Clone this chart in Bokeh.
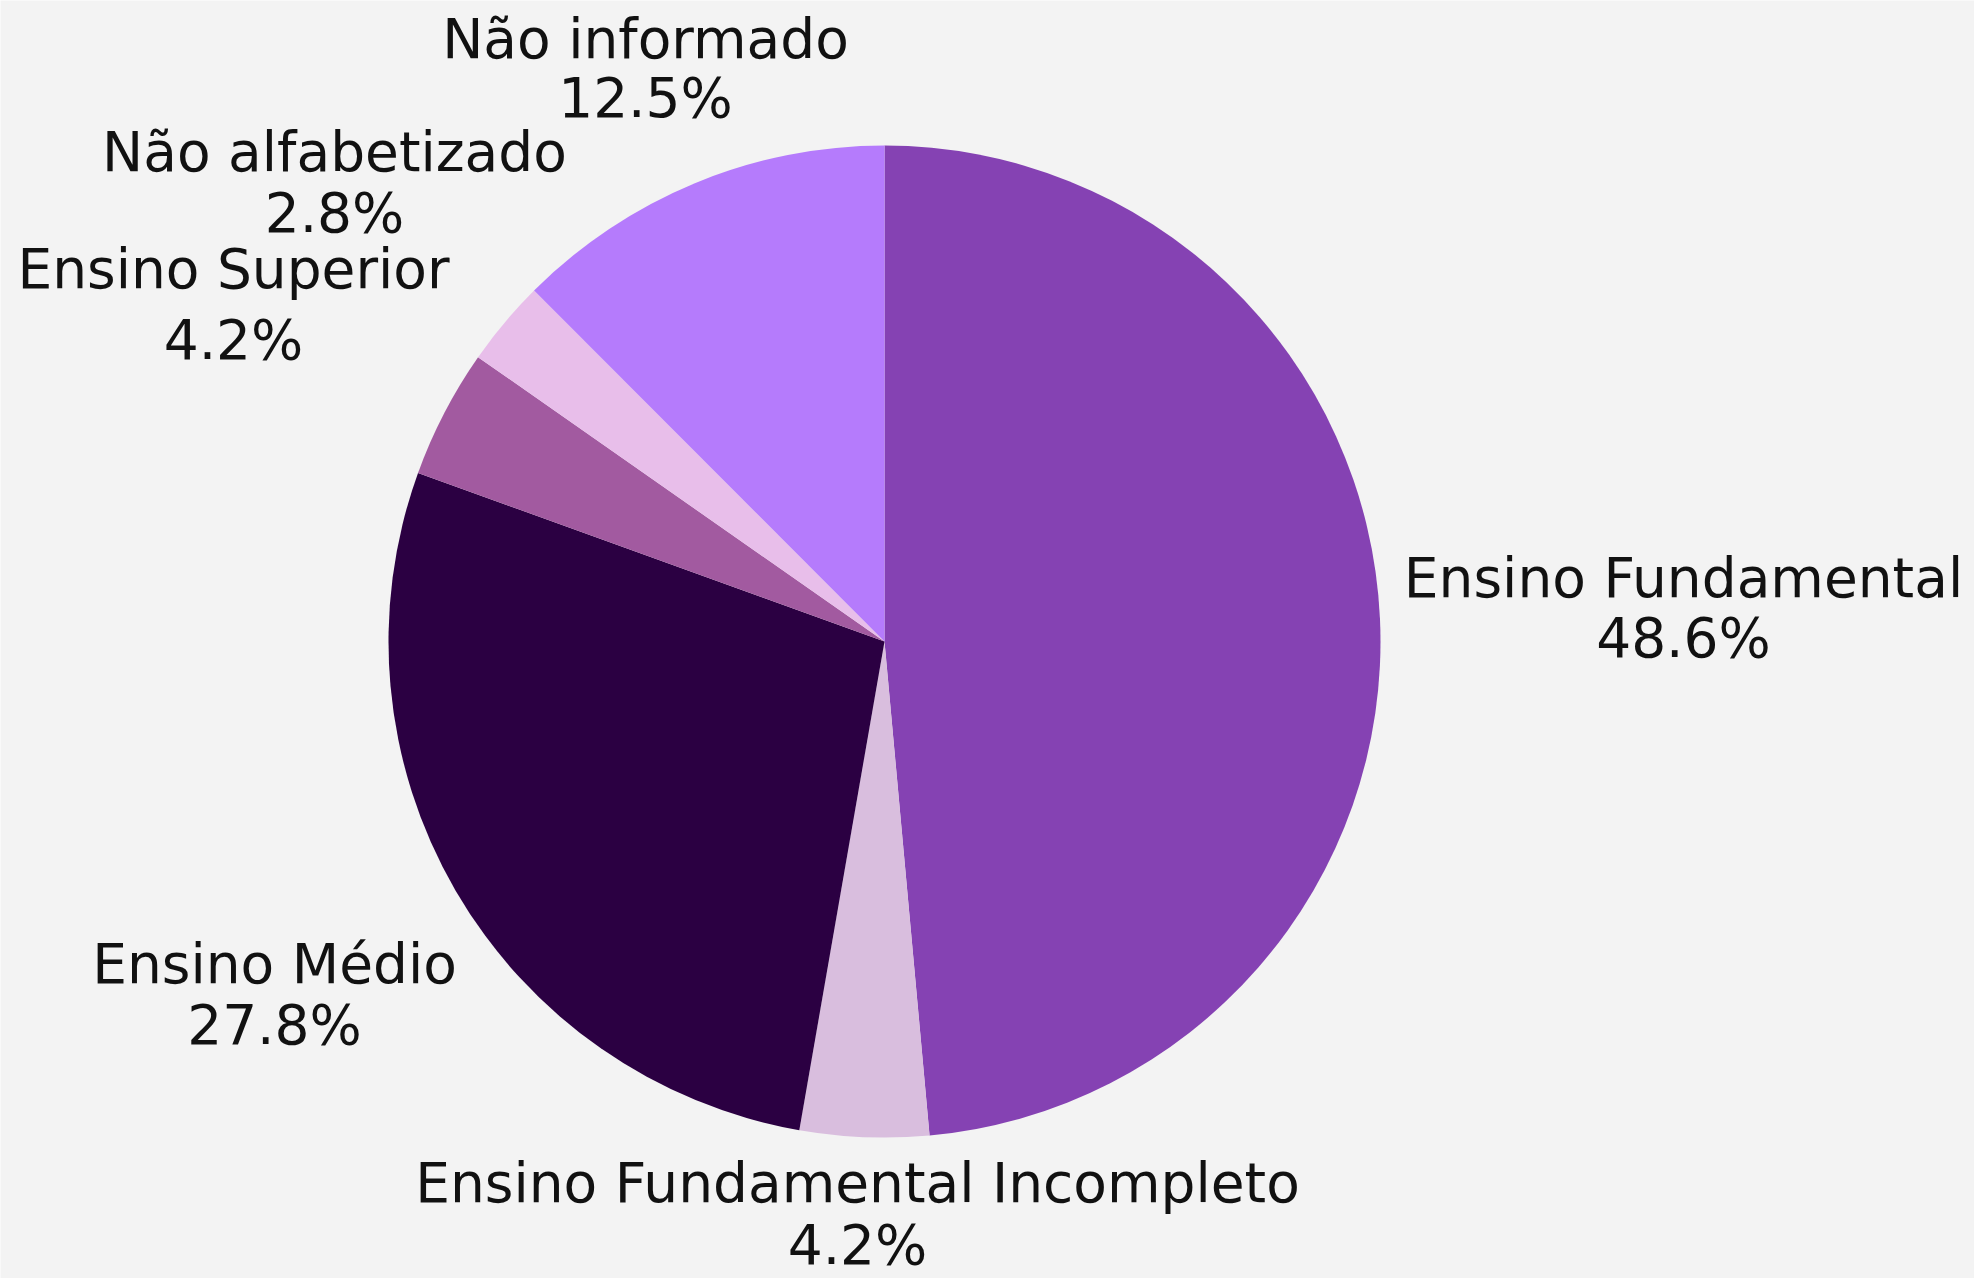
import math
from bokeh.plotting import figure
from bokeh.models import Range1d, ColumnDataSource
from bokeh.embed import file_html
from bokeh.resources import INLINE
from bokeh.core.properties import value

# ---- data ----
categories = ["Ensino Fundamental", "Ensino Fundamental Incompleto", "Ensino Médio",
              "Ensino Superior", "Não alfabetizado", "Não informado"]
percents = [48.6, 4.2, 27.8, 4.2, 2.8, 12.5]
colors = ["#8542B3", "#D9BEDE", "#2B0042", "#A25AA0", "#E8BEEA", "#B57BFC"]

# ---- layout (pixel coordinates of the page, y downward) ----
W, H = 1974, 1278
cx, cy, R = 884, 641, 496
# label anchor positions: (x center, name baseline, percent baseline)
label_pos = [(1683, 577, 637), (857, 1182, 1244), (274, 963, 1024),
             (233, 268, 339), (334, 151, 212), (645, 38, 97)]

total = sum(percents)
starts, ends = [], []
acc = 0.0
for v in percents:
    starts.append(math.pi / 2 - 2 * math.pi * acc / total)
    acc += v
    ends.append(math.pi / 2 - 2 * math.pi * acc / total)

p = figure(width=W, height=H, output_backend="svg", toolbar_location=None,
           x_range=Range1d(0, W), y_range=Range1d(0, H),
           x_axis_location=None, y_axis_location=None, min_border=0)
p.grid.visible = False
p.outline_line_color = None
p.background_fill_color = "#F3F3F3"
p.border_fill_color = "#F3F3F3"

src = ColumnDataSource(dict(start=starts, end=ends, color=colors, cat=categories))
p.wedge(x=cx, y=H - cy, radius=R, start_angle="start", end_angle="end", direction="clock",
        fill_color="color", line_color=None, source=src)

names_src = ColumnDataSource(dict(
    x=[lp[0] for lp in label_pos],
    y=[H - lp[1] for lp in label_pos],
    t=categories))
pct_src = ColumnDataSource(dict(
    x=[lp[0] for lp in label_pos],
    y=[H - lp[2] for lp in label_pos],
    t=[f"{v:.1f}%" for v in percents]))

for s in (names_src, pct_src):
    p.text(x="x", y="y", text="t", source=s, text_align="center", text_baseline="alphabetic",
           text_font=value("DejaVu Sans"), text_font_size="55px", text_color="#111111")

html = file_html(p, INLINE)
open("out.html", "w").write(html)
